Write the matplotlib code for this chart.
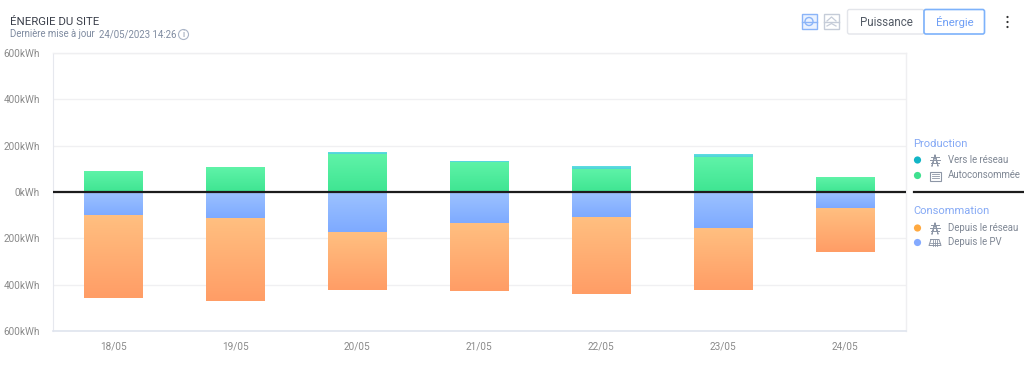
import numpy as np
import matplotlib
matplotlib.use("Agg")
import matplotlib.pyplot as plt
from matplotlib.colors import LinearSegmentedColormap
from matplotlib.patches import FancyBboxPatch, Rectangle, Circle

plt.rcParams['font.family'] = ['Roboto', 'DejaVu Sans']

dates = ['18/05', '19/05', '20/05', '21/05', '22/05', '23/05', '24/05']
autoconsommee = [90, 105, 164, 131, 100, 150, 63]
vers_reseau = [0, 0, 8, 3, 10, 12, 0]
depuis_pv = [102, 114, 172, 136, 109, 155, 71]
depuis_reseau = [355, 356, 250, 291, 331, 267, 187]
y_ticks = [-600, -400, -200, 0, 200, 400, 600]
y_labels = ['600kWh', '400kWh', '200kWh', '0kWh', '200kWh', '400kWh', '600kWh']

W, H = 1024, 374
fig = plt.figure(figsize=(W / 100, H / 100), dpi=100, facecolor='white')
ax = fig.add_axes([52.5 / W, 1 - 331 / H, 853.5 / W, 278 / H])
x = np.arange(len(dates))
ax.set_xlim(-0.5, 6.5)
ax.set_ylim(-600, 600)


def grad_bars(bottoms, heights, top_col, bot_col):
    cmap = LinearSegmentedColormap.from_list('g', [top_col, bot_col])
    img = np.linspace(0, 1, 64).reshape(-1, 1)
    bars = ax.bar(x, heights, bottom=bottoms, width=59 / 122, color='none',
                  edgecolor='none', zorder=3)
    for b, h in zip(bars, heights):
        if h == 0:
            continue
        bb = b.get_bbox()
        ax.imshow(img, cmap=cmap, vmin=0, vmax=1, aspect='auto', zorder=3,
                  extent=(bb.x0, bb.x1, bb.y0, bb.y1), origin='upper',
                  interpolation='bilinear')
    ax.set_xlim(-0.5, 6.5)
    ax.set_ylim(-600, 600)


auto = np.array(autoconsommee)
pv = np.array(depuis_pv)
res = np.array(depuis_reseau)
grad_bars(np.zeros(7), auto, '#5ff3a8', '#3fe592')
grad_bars(auto, np.array(vers_reseau), '#5fdde3', '#4fd3d6')
grad_bars(-pv, pv, '#9cc2ff', '#7eaaff')
grad_bars(-pv - res, res, '#ffbf80', '#ff9d66')

ax.axhline(0, color='#1c1c1c', lw=1.6, zorder=5)
ax.set_yticks(y_ticks, y_labels)
ax.set_xticks(x, dates)
ax.tick_params(axis='both', length=0, labelsize=7.2, labelcolor='#8a8a8a')
ax.tick_params(axis='x', pad=7.5)
ax.tick_params(axis='y', pad=9)
ax.grid(axis='y', color='#f0f0f2', lw=1, zorder=0)
for s in ['top', 'right']:
    ax.spines[s].set_color('#efeff1')
    ax.spines[s].set_linewidth(1)
ax.spines['left'].set_color('#e6e8ee')
ax.spines['bottom'].set_color('#dfe4ee')
ax.spines['bottom'].set_linewidth(1.2)

# overlay in pixel coordinates for the page furniture
ov = fig.add_axes([0, 0, 1, 1], facecolor='none')
ov.set_xlim(0, W)
ov.set_ylim(H, 0)
ov.axis('off')

ov.text(10.5, 21.5, 'ÉNERGIE DU SITE', fontsize=8.2, color='#3a3f4a', va='center')
ov.text(10.5, 34, 'Dernière mise à jour', fontsize=6.9, color='#7f8ba0', va='center')
ov.text(99, 34, '24/05/2023 14:26', fontsize=6.9, color='#7f8ba0', va='center')
ov.add_patch(Circle((183.5, 34.5), 5, fc='white', ec='#a9b4c6', lw=0.8))
ov.text(183.5, 34.7, 'i', fontsize=6.5, color='#8a97ab', ha='center', va='center')

# Buttons
ov.add_patch(FancyBboxPatch((847.5, 9.5), 76.5, 24.5, boxstyle='round,pad=0,rounding_size=2',
                            fc='white', ec='#e3e5ea', lw=1))
ov.add_patch(FancyBboxPatch((924, 9.5), 60.5, 24.5, boxstyle='round,pad=0,rounding_size=2',
                            fc='white', ec='#7db2fb', lw=1.2))
ov.text(886, 22, 'Puissance', fontsize=8.3, color='#545b66', ha='center', va='center')
ov.text(954.5, 22, 'Énergie', fontsize=8.2, color='#6f9ff5', ha='center', va='center')
for yy in [17, 22, 27]:
    ov.add_patch(Circle((1007.5, yy), 1.1, fc='#333333', ec='none'))

# Toggle icons
ov.add_patch(Rectangle((801.5, 14), 15, 15, fc='#eaf2ff', ec='#8ab4f8', lw=1))
ov.plot([801.5, 816.5], [21.5, 21.5], color='#8ab4f8', lw=1)
ov.add_patch(Circle((809, 21.5), 4, fc='none', ec='#8ab4f8', lw=1))
ov.add_patch(Rectangle((824, 14), 15, 15, fc='white', ec='#c5ccd8', lw=1))
ov.plot([824, 839], [21.5, 21.5], color='#c5ccd8', lw=1)
ov.plot([827, 831.5, 836], [21, 17, 21], color='#c5ccd8', lw=0.9)
ov.plot([827, 831.5, 836], [26, 23.5, 26], color='#c5ccd8', lw=0.9)

# Legend
ov.plot([913.5, 1024], [192, 192], color='#1c1c1c', lw=1.6)
ov.text(913, 143.5, 'Production', fontsize=8.1, color='#85a9f5', va='center')
ov.text(913, 211, 'Consommation', fontsize=8.0, color='#85a9f5', va='center')
entries = [(160, '#12b5c6', 'Vers le réseau', 'pylon'),
           (175.5, '#3fe08f', 'Autoconsommée', 'box'),
           (228, '#ffa940', 'Depuis le réseau', 'pylon'),
           (242.5, '#84aaff', 'Depuis le PV', 'panel')]
ic = '#8d96a6'
for yy, col, lab, icon in entries:
    ov.add_patch(Circle((917.5, yy), 3.6, fc=col, ec='none'))
    ov.text(947.5, yy - 0.5, lab, fontsize=6.9, color='#7f8794', va='center')
    if icon == 'pylon':
        ov.plot([932, 935, 938, 935, 932], [yy + 6, yy - 5, yy + 6, yy - 5, yy + 6],
                color=ic, lw=0.7)
        for dy, hw in [(-3, 4), (0, 5), (3, 4)]:
            ov.plot([935 - hw, 935 + hw], [yy + dy, yy + dy], color=ic, lw=0.7)
    elif icon == 'box':
        ov.add_patch(Rectangle((929.5, yy - 4), 11, 9, fc='none', ec=ic, lw=0.8))
        for dy in [-1.5, 0.5, 2.5]:
            ov.plot([931.5, 938.5], [yy + dy, yy + dy], color=ic, lw=0.6)
    else:
        ov.plot([931, 939, 941, 929, 931], [yy - 3, yy - 3, yy + 3, yy + 3, yy - 3],
                color=ic, lw=0.7)
        ov.plot([930, 940], [yy, yy], color=ic, lw=0.6)
        for dx in [933, 935, 937]:
            ov.plot([dx, dx], [yy - 3, yy + 3], color=ic, lw=0.6)

fig.savefig('out.png', dpi=100, facecolor='white')
